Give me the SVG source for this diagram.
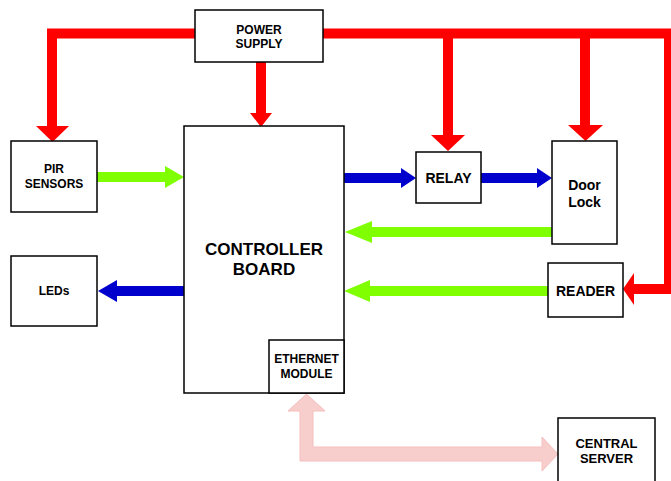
<svg xmlns="http://www.w3.org/2000/svg" width="671" height="481" viewBox="0 0 671 481">
<style>
.box{fill:#fff;stroke:#000;stroke-width:1.5}
.t{font-family:"Liberation Sans",Arial,sans-serif;font-weight:bold;fill:#000;text-anchor:middle}
.red{stroke:#ff0000;stroke-width:10;fill:none}
.redh{fill:#ff0000}
.grn{stroke:#80ff00;stroke-width:10;fill:none}
.grnh{fill:#80ff00}
.blu{stroke:#0000cc;stroke-width:10;fill:none}
.bluh{fill:#0000cc}
</style>
<rect width="671" height="481" fill="#fff"/>
<g id="connectors">
  <!-- red power lines -->
  <path class="red" d="M195 33.5 H52 V127"/>
  <path class="red" d="M323 33.5 H669 V289 H633"/>
  <path class="red" d="M448 33.5 V136"/>
  <path class="red" d="M585 33.5 V126"/>
  <path class="red" d="M261 62 V114"/>
  <polygon class="redh" points="36,126 69,126 52.5,142"/>
  <polygon class="redh" points="250,113 272,113 261,127"/>
  <polygon class="redh" points="431,135 465,135 448,151"/>
  <polygon class="redh" points="568,125 603,125 585.5,141"/>
  <polygon class="redh" points="634,273 634,305 623,289"/>
  <!-- green -->
  <path class="grn" d="M97 177 H166"/>
  <polygon class="grnh" points="165,166 184,177 165,188"/>
  <path class="grn" d="M552 232 H371"/>
  <polygon class="grnh" points="372,221 345,232 372,243"/>
  <path class="grn" d="M548 291 H369"/>
  <polygon class="grnh" points="370,280 344,291 370,302"/>
  <!-- blue -->
  <path class="blu" d="M344 178 H402"/>
  <polygon class="bluh" points="401,168 416,178 401,188"/>
  <path class="blu" d="M481 178 H538"/>
  <polygon class="bluh" points="537,168 552,178 537,188"/>
  <path class="blu" d="M184 291 H116"/>
  <polygon class="bluh" points="117,280 98,291 117,302"/>
  <!-- ethernet link -->
  <polygon fill="#f8cecc" stroke="#f4bfbc" stroke-width="1" points="306.5,394 325,411 313,411 313,447 542,447 542,437 558,454 542,471 542,461 300,461 300,411 288,411"/>
</g>
<g id="power-supply">
  <rect class="box" x="195" y="10" width="128" height="52"/>
  <text class="t" font-size="12" x="259" y="33.5">POWER</text>
  <text class="t" font-size="12" x="259" y="47.5">SUPPLY</text>
</g>
<g id="pir-sensors">
  <rect class="box" x="11" y="141" width="86" height="71"/>
  <text class="t" font-size="12" x="54" y="173">PIR</text>
  <text class="t" font-size="12" x="54" y="188">SENSORS</text>
</g>
<g id="leds">
  <rect class="box" x="11" y="256" width="86" height="70"/>
  <text class="t" font-size="12" x="54" y="295">LEDs</text>
</g>
<g id="controller-board">
  <rect class="box" x="184" y="126" width="160" height="267"/>
  <text class="t" font-size="17" x="264" y="255">CONTROLLER</text>
  <text class="t" font-size="17" x="264" y="275">BOARD</text>
</g>
<g id="ethernet-module">
  <rect class="box" x="269" y="340" width="75" height="53"/>
  <text class="t" font-size="12" x="306.5" y="363">ETHERNET</text>
  <text class="t" font-size="12" x="306.5" y="378">MODULE</text>
</g>
<g id="relay">
  <rect class="box" x="416" y="152" width="65" height="51"/>
  <text class="t" font-size="14" x="448.5" y="183">RELAY</text>
</g>
<g id="door-lock">
  <rect class="box" x="552" y="141" width="65" height="103"/>
  <text class="t" font-size="14" x="584.5" y="190">Door</text>
  <text class="t" font-size="14" x="584.5" y="207">Lock</text>
</g>
<g id="reader">
  <rect class="box" x="548" y="263" width="75" height="54"/>
  <text class="t" font-size="14" x="585.5" y="296">READER</text>
</g>
<g id="central-server">
  <rect class="box" x="558" y="418" width="97" height="70"/>
  <text class="t" font-size="13" x="606.5" y="447.5">CENTRAL</text>
  <text class="t" font-size="13" x="606.5" y="462.5">SERVER</text>
</g>
</svg>
